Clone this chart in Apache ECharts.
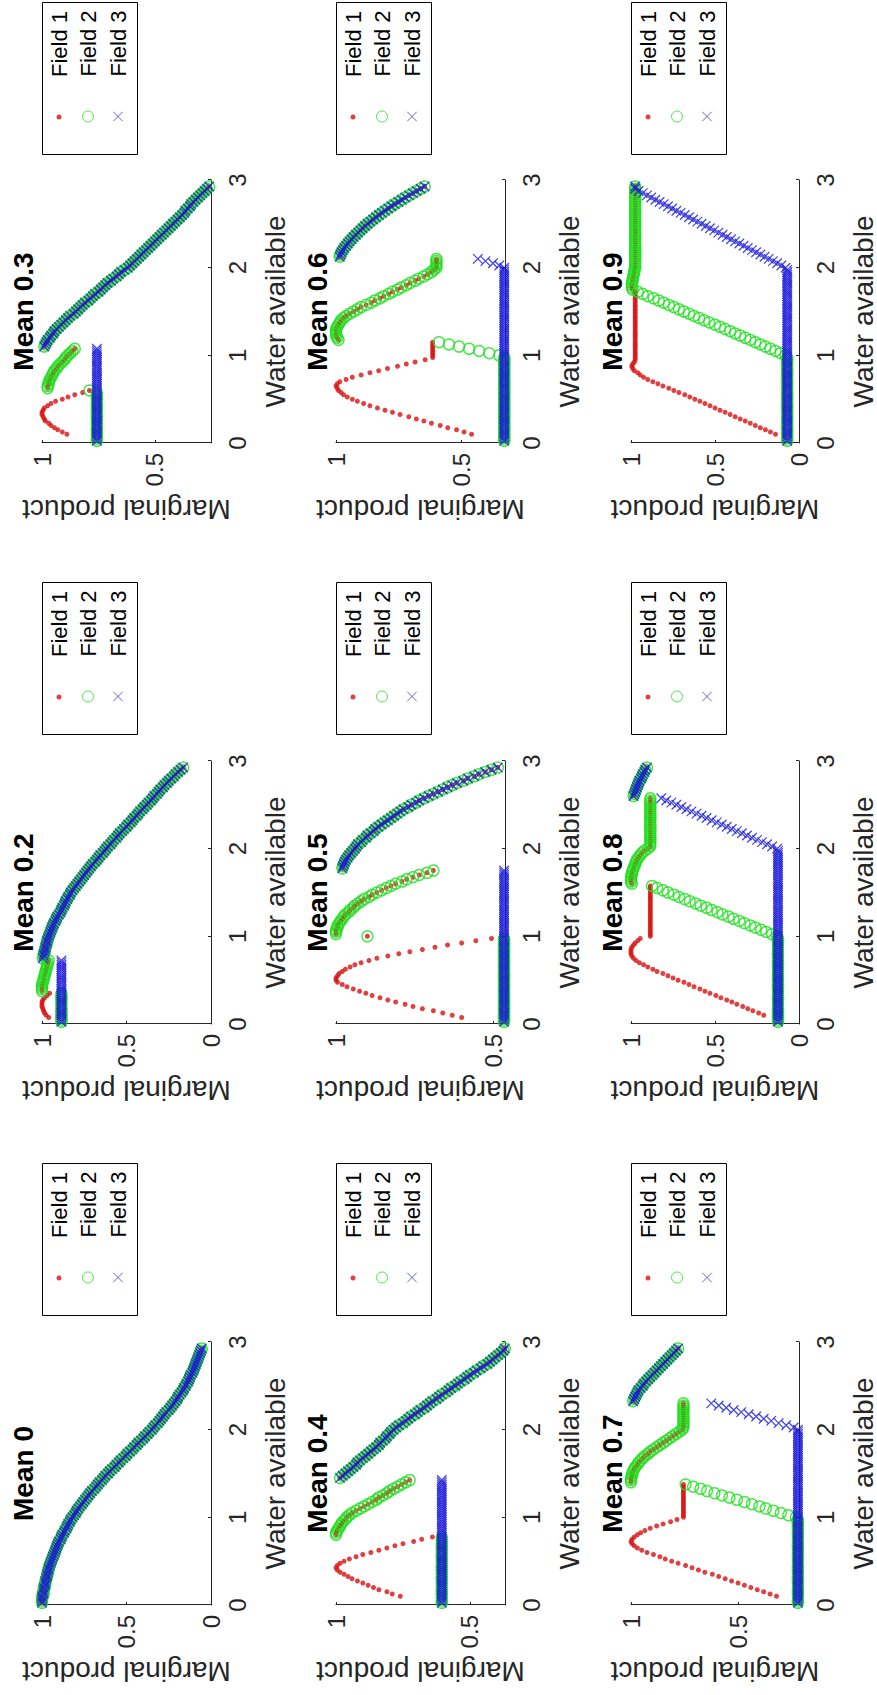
<!DOCTYPE html>
<html><head><meta charset="utf-8">
<script src="https://cdn.jsdelivr.net/npm/echarts@6.0.0/dist/echarts.min.js"></script>
<style>
html,body{margin:0;padding:0;background:#fff;overflow:hidden;width:877px;height:1695px;}
#chart{position:absolute;left:0;top:0;width:1695px;height:877px;transform-origin:0 0;transform:translateY(1695px) rotate(-90deg);}
</style></head><body><div id="chart"></div>
<script>
const _ = null;
// Water available grid (x values)
const water = [0.025,0.05,0.075,0.1,0.125,0.15,0.175,0.2,0.225,0.25,
0.275,0.3,0.325,0.35,0.375,0.4,0.425,0.45,0.475,0.5,
0.525,0.55,0.575,0.6,0.625,0.65,0.675,0.7,0.725,0.75,
0.775,0.8,0.825,0.85,0.875,0.9,0.925,0.95,0.975,1,
1.025,1.05,1.075,1.1,1.125,1.15,1.175,1.2,1.225,1.25,
1.275,1.3,1.325,1.35,1.375,1.4,1.425,1.45,1.475,1.5,
1.525,1.55,1.575,1.6,1.625,1.65,1.675,1.7,1.725,1.75,
1.775,1.8,1.825,1.85,1.875,1.9,1.925,1.95,1.975,2,
2.025,2.05,2.075,2.1,2.125,2.15,2.175,2.2,2.225,2.25,
2.275,2.3,2.325,2.35,2.375,2.4,2.425,2.45,2.475,2.5,
2.525,2.55,2.575,2.6,2.625,2.65,2.675,2.7,2.725,2.75,
2.775,2.8,2.825,2.85,2.875,2.9,2.925];

const panelTitles = ['Mean 0','Mean 0.2','Mean 0.3','Mean 0.4','Mean 0.5','Mean 0.6','Mean 0.7','Mean 0.8','Mean 0.9'];
const fieldNames = ['Field 1','Field 2','Field 3'];
const xTickValues = [0,1,2,3];
const yMins = [0,0,0.252,0.369,0.462,0.327,0.215,0,0];
const yTickValues = [[0,0.5,1],[0,0.5,1],[0.5,1],[0.5,1],[0.5,1],[0.5,1],[0.5,1],[0,0.5,1],[0,0.5,1]];

// Each panel: per-field leading values (f1,f2,f3), then values shared by all three fields (all)
// ---- Mean 0
const m00_f1 = [], m00_f2 = [], m00_f3 = [];
const m00_all = [1,1,1,1,0.99,0.99,0.99,0.99,0.98,0.98,
0.98,0.975,0.97,0.97,0.965,0.96,0.96,0.955,0.95,0.945,
0.94,0.935,0.93,0.925,0.92,0.915,0.91,0.905,0.9,0.89,
0.885,0.88,0.87,0.865,0.855,0.85,0.845,0.835,0.83,0.82,
0.81,0.8,0.795,0.785,0.775,0.765,0.755,0.745,0.735,0.725,
0.715,0.705,0.69,0.68,0.67,0.66,0.645,0.635,0.625,0.61,
0.6,0.585,0.57,0.56,0.545,0.535,0.52,0.505,0.495,0.48,
0.465,0.455,0.44,0.43,0.415,0.4,0.39,0.375,0.365,0.35,
0.34,0.33,0.315,0.305,0.295,0.285,0.275,0.265,0.25,0.24,
0.23,0.22,0.21,0.2,0.195,0.185,0.175,0.165,0.16,0.15,
0.145,0.135,0.13,0.125,0.12,0.11,0.105,0.1,0.095,0.09,
0.085,0.08,0.075,0.07,0.065,0.06,0.055];

// ---- Mean 0.2
const m02_f1 = [_,_,0.96,0.975,0.985,0.99,0.995,1,1,1,
0.995,0.985,0.97,0.955,1,1,1,1,0.995,0.99,
0.99,0.985,0.98,0.98,0.975,0.97,0.97,0.965,0.96];
const m02_f2 = [0.885,0.885,0.885,0.885,0.885,0.885,0.885,0.885,0.885,0.885,
0.885,0.885,0.885,0.885,1,1,1,1,0.995,0.99,
0.99,0.985,0.98,0.98,0.975,0.97,0.97,0.965,0.96];
const m02_f3 = [0.885,0.885,0.885,0.885,0.885,0.885,0.885,0.885,0.885,0.885,
0.885,0.885,0.885,0.885,0.885,0.885,0.885,0.885,0.885,0.885,
0.885,0.885,0.885,0.885,0.885,0.885,0.885,0.885,0.885];
const m02_all = [0.995,
0.99,0.99,0.985,0.98,0.98,0.975,0.97,0.97,0.965,0.96,
0.955,0.95,0.945,0.94,0.935,0.93,0.92,0.915,0.91,0.9,
0.89,0.885,0.88,0.87,0.865,0.86,0.85,0.845,0.835,0.83,
0.82,0.81,0.8,0.79,0.78,0.77,0.76,0.75,0.74,0.73,
0.72,0.71,0.7,0.685,0.675,0.665,0.655,0.64,0.63,0.62,
0.61,0.595,0.585,0.575,0.56,0.55,0.54,0.525,0.515,0.5,
0.49,0.475,0.465,0.455,0.44,0.43,0.42,0.405,0.395,0.38,
0.37,0.355,0.345,0.335,0.32,0.31,0.3,0.285,0.275,0.26,
0.25,0.235,0.22,0.21,0.195,0.18,0.165];

// ---- Mean 0.3
const m03_f1 = [_,_,_,0.89,0.91,0.93,0.945,0.96,0.97,0.985,
0.99,0.995,1,1,0.995,0.99,0.975,0.96,0.94,0.91,
0.885,0.855,0.82,0.79,0.975,0.975,0.97,0.97,0.965,0.96,
0.955,0.95,0.945,0.935,0.93,0.92,0.91,0.9,0.895,0.885,
0.875,0.865,0.855];
const m03_f2 = [0.757,0.757,0.757,0.757,0.757,0.757,0.757,0.757,0.757,0.757,
0.757,0.757,0.757,0.757,0.757,0.757,0.757,0.757,0.757,0.757,
0.757,0.757,0.757,0.79,0.975,0.975,0.97,0.97,0.965,0.96,
0.955,0.95,0.945,0.935,0.93,0.92,0.91,0.9,0.895,0.885,
0.875,0.865,0.855];
const m03_f3 = [0.757,0.757,0.757,0.757,0.757,0.757,0.757,0.757,0.757,0.757,
0.757,0.757,0.757,0.757,0.757,0.757,0.757,0.757,0.757,0.757,
0.757,0.757,0.757,0.757,0.757,0.757,0.757,0.757,0.757,0.757,
0.757,0.757,0.757,0.757,0.757,0.757,0.757,0.757,0.757,0.757,
0.757,0.757,0.757];
const m03_all = [0.99,0.985,0.98,0.975,0.965,0.96,0.95,
0.945,0.935,0.925,0.915,0.905,0.895,0.885,0.875,0.86,0.85,
0.84,0.83,0.82,0.81,0.795,0.785,0.775,0.765,0.75,0.74,
0.73,0.72,0.71,0.695,0.685,0.67,0.66,0.65,0.635,0.62,
0.61,0.6,0.59,0.58,0.57,0.56,0.55,0.54,0.53,0.52,
0.51,0.5,0.49,0.48,0.47,0.46,0.45,0.44,0.43,0.42,
0.41,0.4,0.39,0.38,0.37,0.365,0.355,0.345,0.34,0.33,
0.32,0.31,0.3,0.29,0.28,0.27,0.26];

// ---- Mean 0.4
const m04_f1 = [_,_,_,0.76,0.79,0.81,0.84,0.86,0.88,0.9,
0.92,0.94,0.955,0.97,0.985,0.995,1,0.995,0.985,0.97,
0.95,0.925,0.9,0.87,0.84,0.81,0.78,0.75,0.71,0.68,
0.64,1,1,0.995,0.99,0.985,0.98,0.975,0.965,0.96,
0.95,0.94,0.925,0.91,0.895,0.88,0.865,0.85,0.84,0.825,
0.81,0.8,0.785,0.77,0.755,0.74,0.725];
const m04_f2 = [0.605,0.605,0.605,0.605,0.605,0.605,0.605,0.605,0.605,0.605,
0.605,0.605,0.605,0.605,0.605,0.605,0.605,0.605,0.605,0.605,
0.605,0.605,0.605,0.605,0.605,0.605,0.605,0.605,0.605,0.605,
0.605,1,1,0.995,0.99,0.985,0.98,0.975,0.965,0.96,
0.95,0.94,0.925,0.91,0.895,0.88,0.865,0.85,0.84,0.825,
0.81,0.8,0.785,0.77,0.755,0.74,0.725];
const m04_f3 = [0.605,0.605,0.605,0.605,0.605,0.605,0.605,0.605,0.605,0.605,
0.605,0.605,0.605,0.605,0.605,0.605,0.605,0.605,0.605,0.605,
0.605,0.605,0.605,0.605,0.605,0.605,0.605,0.605,0.605,0.605,
0.605,0.605,0.605,0.605,0.605,0.605,0.605,0.605,0.605,0.605,
0.605,0.605,0.605,0.605,0.605,0.605,0.605,0.605,0.605,0.605,
0.605,0.605,0.605,0.605,0.605,0.605,0.605];
const m04_all = [0.985,0.975,0.965,
0.955,0.945,0.935,0.925,0.92,0.91,0.9,0.89,0.88,0.87,
0.86,0.85,0.84,0.835,0.825,0.815,0.81,0.8,0.795,0.785,
0.775,0.765,0.75,0.74,0.73,0.72,0.705,0.695,0.685,0.67,
0.66,0.65,0.64,0.625,0.615,0.605,0.59,0.58,0.57,0.555,
0.545,0.535,0.52,0.51,0.5,0.485,0.475,0.46,0.45,0.435,
0.425,0.415,0.405,0.395,0.385,0.375,0.37];

// ---- Mean 0.5
const m05_f1 = [_,_,0.6,0.63,0.66,0.69,0.725,0.755,0.78,0.81,
0.835,0.86,0.885,0.905,0.925,0.945,0.965,0.98,0.995,1,
1,0.995,0.99,0.98,0.97,0.955,0.94,0.92,0.895,0.87,
0.835,0.8,0.765,0.725,0.685,0.645,0.6,0.555,0.505,0.9,
1,1,1,0.995,0.995,0.99,0.985,0.98,0.975,0.97,
0.96,0.955,0.945,0.94,0.93,0.92,0.91,0.895,0.885,0.87,
0.855,0.84,0.825,0.81,0.79,0.775,0.755,0.735,0.71,0.69];
const m05_f2 = [0.465,0.465,0.465,0.465,0.465,0.465,0.465,0.465,0.465,0.465,
0.465,0.465,0.465,0.465,0.465,0.465,0.465,0.465,0.465,0.465,
0.465,0.465,0.465,0.465,0.465,0.465,0.465,0.465,0.465,0.465,
0.465,0.465,0.465,0.465,0.465,0.465,0.465,0.465,0.465,0.9,
1,1,1,0.995,0.995,0.99,0.985,0.98,0.975,0.97,
0.96,0.955,0.945,0.94,0.93,0.92,0.91,0.895,0.885,0.87,
0.855,0.84,0.825,0.81,0.79,0.775,0.755,0.735,0.71,0.69];
const m05_f3 = [0.465,0.465,0.465,0.465,0.465,0.465,0.465,0.465,0.465,0.465,
0.465,0.465,0.465,0.465,0.465,0.465,0.465,0.465,0.465,0.465,
0.465,0.465,0.465,0.465,0.465,0.465,0.465,0.465,0.465,0.465,
0.465,0.465,0.465,0.465,0.465,0.465,0.465,0.465,0.465,0.465,
0.465,0.465,0.465,0.465,0.465,0.465,0.465,0.465,0.465,0.465,
0.465,0.465,0.465,0.465,0.465,0.465,0.465,0.465,0.465,0.465,
0.465,0.465,0.465,0.465,0.465,0.465,0.465,0.465,0.465,0.465];
const m05_all = [0.98,0.978,0.975,0.972,0.968,0.963,0.958,0.952,0.946,0.94,
0.935,0.93,0.92,0.915,0.905,0.9,0.89,0.88,0.875,0.865,
0.855,0.845,0.835,0.825,0.815,0.805,0.795,0.785,0.77,0.76,
0.745,0.735,0.72,0.705,0.69,0.675,0.66,0.645,0.63,0.615,
0.595,0.58,0.56,0.545,0.525,0.505,0.485];

// ---- Mean 0.6
const m06_f1 = [_,_,_,0.46,0.49,0.52,0.555,0.585,0.62,0.65,
0.68,0.71,0.745,0.775,0.805,0.835,0.865,0.89,0.915,0.935,
0.955,0.97,0.98,0.99,0.995,1,0.995,0.985,0.96,0.935,
0.9,0.865,0.83,0.795,0.755,0.72,0.685,0.645,0.615,0.615,
0.615,0.615,0.615,0.615,0.615,0.615,0.99,0.995,1,1,
1,1,0.995,0.99,0.985,0.98,0.97,0.96,0.945,0.93,
0.915,0.9,0.88,0.86,0.845,0.825,0.81,0.79,0.775,0.755,
0.74,0.72,0.705,0.685,0.67,0.65,0.635,0.62,0.61,0.6,
0.6,0.6,0.6,0.6];
const m06_f2 = [0.33,0.33,0.33,0.33,0.33,0.33,0.33,0.33,0.33,0.33,
0.33,0.33,0.33,0.33,0.33,0.33,0.33,0.33,0.33,0.33,
0.33,0.33,0.33,0.33,0.33,0.33,0.33,0.33,0.33,0.33,
0.33,0.33,0.33,0.33,0.33,0.33,0.33,0.33,0.33,0.35,
0.39,0.43,0.47,0.51,0.55,0.59,0.99,0.995,1,1,
1,1,0.995,0.99,0.985,0.98,0.97,0.96,0.945,0.93,
0.915,0.9,0.88,0.86,0.845,0.825,0.81,0.79,0.775,0.755,
0.74,0.72,0.705,0.685,0.67,0.65,0.635,0.62,0.61,0.6,
0.6,0.6,0.6,0.6];
const m06_f3 = [0.33,0.33,0.33,0.33,0.33,0.33,0.33,0.33,0.33,0.33,
0.33,0.33,0.33,0.33,0.33,0.33,0.33,0.33,0.33,0.33,
0.33,0.33,0.33,0.33,0.33,0.33,0.33,0.33,0.33,0.33,
0.33,0.33,0.33,0.33,0.33,0.33,0.33,0.33,0.33,0.33,
0.33,0.33,0.33,0.33,0.33,0.33,0.33,0.33,0.33,0.33,
0.33,0.33,0.33,0.33,0.33,0.33,0.33,0.33,0.33,0.33,
0.33,0.33,0.33,0.33,0.33,0.33,0.33,0.33,0.33,0.33,
0.33,0.33,0.33,0.33,0.33,0.33,0.33,0.33,0.33,0.33,
0.35,0.375,0.405,0.435];
const m06_all = [0.985,0.982,0.978,0.973,0.967,0.96,
0.953,0.946,0.938,0.93,0.921,0.912,0.903,0.894,0.884,0.874,
0.863,0.852,0.841,0.829,0.817,0.805,0.792,0.779,0.766,0.752,
0.738,0.724,0.709,0.694,0.679,0.663,0.647];

// ---- Mean 0.7
const m07_f1 = [_,_,_,0.32,0.35,0.38,0.41,0.44,0.47,0.5,
0.53,0.56,0.59,0.62,0.655,0.685,0.715,0.745,0.78,0.81,
0.84,0.865,0.895,0.925,0.95,0.97,0.985,0.995,1,0.995,
0.985,0.97,0.955,0.935,0.91,0.88,0.85,0.815,0.785,0.755,
0.755,0.755,0.755,0.755,0.755,0.755,0.755,0.755,0.755,0.755,
0.755,0.755,0.755,0.755,0.755,1,1,1,0.995,0.995,
0.99,0.985,0.98,0.97,0.965,0.955,0.945,0.935,0.92,0.91,
0.895,0.88,0.865,0.85,0.835,0.82,0.805,0.79,0.775,0.76,
0.755,0.755,0.755,0.755,0.755,0.755,0.755,0.755,0.755,0.755,
0.755,0.755];
const m07_f2 = [0.22,0.22,0.22,0.22,0.22,0.22,0.22,0.22,0.22,0.22,
0.22,0.22,0.22,0.22,0.22,0.22,0.22,0.22,0.22,0.22,
0.22,0.22,0.22,0.22,0.22,0.22,0.22,0.22,0.22,0.22,
0.22,0.22,0.22,0.22,0.22,0.22,0.22,0.22,0.22,0.23,
0.265,0.3,0.335,0.37,0.4,0.435,0.47,0.505,0.54,0.575,
0.61,0.645,0.675,0.71,0.745,1,1,1,0.995,0.995,
0.99,0.985,0.98,0.97,0.965,0.955,0.945,0.935,0.92,0.91,
0.895,0.88,0.865,0.85,0.835,0.82,0.805,0.79,0.775,0.76,
0.755,0.755,0.755,0.755,0.755,0.755,0.755,0.755,0.755,0.755,
0.755,0.755];
const m07_f3 = [0.22,0.22,0.22,0.22,0.22,0.22,0.22,0.22,0.22,0.22,
0.22,0.22,0.22,0.22,0.22,0.22,0.22,0.22,0.22,0.22,
0.22,0.22,0.22,0.22,0.22,0.22,0.22,0.22,0.22,0.22,
0.22,0.22,0.22,0.22,0.22,0.22,0.22,0.22,0.22,0.22,
0.22,0.22,0.22,0.22,0.22,0.22,0.22,0.22,0.22,0.22,
0.22,0.22,0.22,0.22,0.22,0.22,0.22,0.22,0.22,0.22,
0.22,0.22,0.22,0.22,0.22,0.22,0.22,0.22,0.22,0.22,
0.22,0.22,0.22,0.22,0.22,0.22,0.22,0.22,0.22,0.22,
0.24,0.275,0.31,0.345,0.38,0.415,0.45,0.485,0.52,0.555,
0.59,0.625];
const m07_all = [0.99,0.985,0.98,0.975,0.97,0.965,0.955,0.945,0.94,0.93,
0.92,0.91,0.9,0.89,0.88,0.87,0.86,0.85,0.84,0.83,
0.82,0.81,0.8,0.79,0.78];

// ---- Mean 0.8
const m08_f1 = [_,_,_,0.21,0.24,0.275,0.305,0.335,0.37,0.4,
0.43,0.465,0.495,0.53,0.56,0.59,0.625,0.655,0.685,0.72,
0.75,0.78,0.81,0.845,0.87,0.9,0.925,0.95,0.97,0.985,
0.995,1,1,1,0.995,0.985,0.975,0.96,0.945,0.885,
0.885,0.885,0.885,0.885,0.885,0.885,0.885,0.885,0.885,0.885,
0.885,0.885,0.885,0.885,0.885,0.885,0.885,0.885,0.885,0.885,
0.885,0.885,0.885,0.995,1,1,1,0.995,0.995,0.99,
0.985,0.98,0.975,0.97,0.965,0.955,0.945,0.935,0.92,0.9,
0.885,0.885,0.885,0.885,0.885,0.885,0.885,0.885,0.885,0.885,
0.885,0.885,0.885,0.885,0.885,0.885,0.885,0.885,0.885,0.885,
0.885,0.885,0.885];
const m08_f2 = [0.125,0.125,0.125,0.125,0.125,0.125,0.125,0.125,0.125,0.125,
0.125,0.125,0.125,0.125,0.125,0.125,0.125,0.125,0.125,0.125,
0.125,0.125,0.125,0.125,0.125,0.125,0.125,0.125,0.125,0.125,
0.125,0.125,0.125,0.125,0.125,0.125,0.125,0.125,0.125,0.13,
0.16,0.195,0.225,0.26,0.29,0.325,0.355,0.39,0.42,0.455,
0.485,0.52,0.55,0.585,0.615,0.65,0.68,0.715,0.745,0.78,
0.81,0.845,0.875,0.995,1,1,1,0.995,0.995,0.99,
0.985,0.98,0.975,0.97,0.965,0.955,0.945,0.935,0.92,0.9,
0.885,0.885,0.885,0.885,0.885,0.885,0.885,0.885,0.885,0.885,
0.885,0.885,0.885,0.885,0.885,0.885,0.885,0.885,0.885,0.885,
0.885,0.885,0.885];
const m08_f3 = [0.125,0.125,0.125,0.125,0.125,0.125,0.125,0.125,0.125,0.125,
0.125,0.125,0.125,0.125,0.125,0.125,0.125,0.125,0.125,0.125,
0.125,0.125,0.125,0.125,0.125,0.125,0.125,0.125,0.125,0.125,
0.125,0.125,0.125,0.125,0.125,0.125,0.125,0.125,0.125,0.125,
0.125,0.125,0.125,0.125,0.125,0.125,0.125,0.125,0.125,0.125,
0.125,0.125,0.125,0.125,0.125,0.125,0.125,0.125,0.125,0.125,
0.125,0.125,0.125,0.125,0.125,0.125,0.125,0.125,0.125,0.125,
0.125,0.125,0.125,0.125,0.125,0.125,0.125,0.125,0.125,0.13,
0.16,0.19,0.22,0.25,0.28,0.31,0.34,0.37,0.4,0.43,
0.46,0.49,0.52,0.55,0.58,0.61,0.64,0.67,0.7,0.73,
0.76,0.79,0.82];
const m08_all = [0.985,0.98,0.975,0.97,0.965,0.96,0.955,0.95,0.94,0.935,
0.93,0.92,0.915,0.905];

// ---- Mean 0.9
const m09_f1 = [_,_,_,0.14,0.17,0.2,0.23,0.26,0.29,0.32,
0.35,0.38,0.41,0.44,0.47,0.5,0.53,0.56,0.59,0.62,
0.65,0.68,0.715,0.745,0.775,0.81,0.84,0.87,0.9,0.925,
0.945,0.96,0.98,0.99,0.995,0.99,0.98,0.975,0.975,0.975,
0.975,0.975,0.975,0.975,0.975,0.975,0.975,0.975,0.975,0.975,
0.975,0.975,0.975,0.975,0.975,0.975,0.975,0.975,0.975,0.975,
0.975,0.975,0.975,0.975,0.975,0.975,0.975,0.975,0.975,0.99,
0.995,0.995,0.995,0.99,0.99,0.985,0.985,0.98,0.98,0.975,
0.975,0.975,0.975,0.975,0.975,0.975,0.975,0.975,0.975,0.975,
0.975,0.975,0.975,0.975,0.975,0.975,0.975,0.975,0.975,0.975,
0.975,0.975,0.975,0.975,0.975,0.975,0.975,0.975,0.975,0.975,
0.975,0.975,0.975,0.975,0.975];
const m09_f2 = [0.07,0.07,0.07,0.07,0.07,0.07,0.07,0.07,0.07,0.07,
0.07,0.07,0.07,0.07,0.07,0.07,0.07,0.07,0.07,0.07,
0.07,0.07,0.07,0.07,0.07,0.07,0.07,0.07,0.07,0.07,
0.07,0.07,0.07,0.07,0.07,0.07,0.07,0.07,0.07,0.08,
0.11,0.14,0.17,0.2,0.23,0.26,0.29,0.32,0.35,0.38,
0.41,0.44,0.47,0.5,0.535,0.565,0.595,0.625,0.655,0.685,
0.715,0.745,0.775,0.805,0.835,0.865,0.9,0.93,0.96,0.99,
0.995,0.995,0.995,0.99,0.99,0.985,0.985,0.98,0.98,0.975,
0.975,0.975,0.975,0.975,0.975,0.975,0.975,0.975,0.975,0.975,
0.975,0.975,0.975,0.975,0.975,0.975,0.975,0.975,0.975,0.975,
0.975,0.975,0.975,0.975,0.975,0.975,0.975,0.975,0.975,0.975,
0.975,0.975,0.975,0.975,0.975];
const m09_f3 = [0.07,0.07,0.07,0.07,0.07,0.07,0.07,0.07,0.07,0.07,
0.07,0.07,0.07,0.07,0.07,0.07,0.07,0.07,0.07,0.07,
0.07,0.07,0.07,0.07,0.07,0.07,0.07,0.07,0.07,0.07,
0.07,0.07,0.07,0.07,0.07,0.07,0.07,0.07,0.07,0.07,
0.07,0.07,0.07,0.07,0.07,0.07,0.07,0.07,0.07,0.07,
0.07,0.07,0.07,0.07,0.07,0.07,0.07,0.07,0.07,0.07,
0.07,0.07,0.07,0.07,0.07,0.07,0.07,0.07,0.07,0.07,
0.07,0.07,0.07,0.07,0.07,0.07,0.07,0.07,0.07,0.08,
0.105,0.13,0.155,0.18,0.205,0.23,0.255,0.28,0.305,0.33,
0.355,0.38,0.405,0.43,0.455,0.48,0.505,0.53,0.555,0.58,
0.605,0.63,0.655,0.68,0.705,0.73,0.755,0.78,0.805,0.83,
0.855,0.88,0.905,0.93,0.955];
const m09_all = [0.975,0.975];

const panelData = [
  [m00_f1,m00_f2,m00_f3,m00_all],[m02_f1,m02_f2,m02_f3,m02_all],[m03_f1,m03_f2,m03_f3,m03_all],
  [m04_f1,m04_f2,m04_f3,m04_all],[m05_f1,m05_f2,m05_f3,m05_all],[m06_f1,m06_f2,m06_f3,m06_all],
  [m07_f1,m07_f2,m07_f3,m07_all],[m08_f1,m08_f2,m08_f3,m08_all],[m09_f1,m09_f2,m09_f3,m09_all]
];

function buildPoints(lead, shared) {
  const out = [];
  for (let i = 0; i < water.length; i++) {
    const v = i < lead.length ? lead[i] : shared[i - lead.length];
    if (v !== null && v !== undefined) out.push([water[i], v]);
  }
  return out;
}

// ---------- styling / layout ----------
const FONT = "'Liberation Sans', Arial, Helvetica, sans-serif";
const AXIS_COLOR = '#262626';
const RED = '#d81010', GREEN = '#1ee01e', BLUE = '#1a1ad8';
const colLeft = [90, 671, 1252], rowTop = [42, 336, 631], rowH = [169, 169, 168], plotW = 263;
const legendLeft = [379, 960, 1540], legendW = 152, legendH = 95;
const legendRowOffset = [17, 46, 76];
const markerSpecs = [
  {symbol: 'circle', symbolSize: 5, itemStyle: {color: RED}},
  {symbol: 'circle', symbolSize: 11, itemStyle: {color: 'rgba(0,0,0,0)', borderColor: GREEN, borderWidth: 1.5}},
  {symbol: 'path://M0,0L10,10M10,0L0,10', symbolSize: 9.5, itemStyle: {color: 'rgba(0,0,0,0)', borderColor: BLUE, borderWidth: 1.3}}
];
const legendIcons = ['circle', 'circle', 'path://M0,0L10,10M10,0L0,10'];
const legendIconSize = [5, 11, 9.5];
const legendItemStyles = [
  {color: RED, borderWidth: 0},
  {color: 'rgba(0,0,0,0)', borderColor: GREEN, borderWidth: 1},
  {color: 'rgba(0,0,0,0)', borderColor: '#4040c8', borderWidth: 1}
];

const grids = [], xAxes = [], yAxes = [], series = [], legends = [], graphics = [];
panelTitles.forEach((title, p) => {
  const r = Math.floor(p / 3), c = p % 3;
  grids.push({left: colLeft[c], top: rowTop[r], width: plotW, height: rowH[r], containLabel: false, outerBoundsMode: 'none'});
  xAxes.push({
    type: 'value', gridIndex: p, min: 0, max: 3, interval: 1,
    name: 'Water available', nameLocation: 'middle', nameGap: 50,
    nameTextStyle: {fontSize: 28, color: AXIS_COLOR, fontFamily: FONT},
    axisLine: {show: true, onZero: false, lineStyle: {color: AXIS_COLOR, width: 1}},
    axisTick: {show: true, inside: true, length: 3, customValues: xTickValues, lineStyle: {color: AXIS_COLOR}},
    axisLabel: {fontSize: 24, color: AXIS_COLOR, fontFamily: FONT, margin: 14, customValues: xTickValues},
    splitLine: {show: false}
  });
  yAxes.push({
    type: 'value', gridIndex: p, min: yMins[p], max: 1,
    name: 'Marginal product', nameLocation: 'middle', nameGap: 52,
    nameTextStyle: {fontSize: 28, color: AXIS_COLOR, fontFamily: FONT},
    axisLine: {show: true, onZero: false, lineStyle: {color: AXIS_COLOR, width: 1}},
    axisTick: {show: true, inside: true, length: 3, customValues: yTickValues[p], lineStyle: {color: AXIS_COLOR}},
    axisLabel: {fontSize: 24, color: AXIS_COLOR, fontFamily: FONT, margin: 10, customValues: yTickValues[p]},
    splitLine: {show: false}
  });
  const d = panelData[p];
  for (let k = 0; k < 3; k++) {
    series.push(Object.assign({
      type: 'scatter', name: fieldNames[k], xAxisIndex: p, yAxisIndex: p,
      data: buildPoints(d[k], d[3]), clip: false, silent: true, animation: false
    }, markerSpecs[k]));
    const s = legendIconSize[k];
    legends.push({
      data: [{name: fieldNames[k], icon: legendIcons[k], itemStyle: legendItemStyles[k]}],
      left: legendLeft[c] + 38 - s / 2, top: rowTop[r] + legendRowOffset[k] - 11,
      orient: 'vertical', padding: 0, itemWidth: s, itemHeight: s, selectedMode: false,
      textStyle: {fontSize: 22, lineHeight: 22, color: '#000', fontFamily: FONT, padding: [0, 0, 0, 35 - s / 2]}
    });
  }
  graphics.push({type: 'rect', silent: true, shape: {x: legendLeft[c] + 0.5, y: rowTop[r] + 0.5, width: legendW, height: legendH},
    style: {fill: 'none', stroke: '#000', lineWidth: 1}});
  graphics.push({type: 'text', silent: true, x: colLeft[c] + plotW / 2, y: rowTop[r] - 19,
    style: {text: title, fontSize: 28, fontWeight: 'bold', fontFamily: FONT, fill: '#000', align: 'center', verticalAlign: 'middle', textAlign: 'center', textVerticalAlign: 'middle'}});
});

const chart = echarts.init(document.getElementById('chart'), null, {renderer: 'svg', width: 1695, height: 877});
chart.setOption({
  backgroundColor: '#fff', animation: false,
  grid: grids, xAxis: xAxes, yAxis: yAxes, series: series, legend: legends, graphic: graphics
});
</script></body></html>
